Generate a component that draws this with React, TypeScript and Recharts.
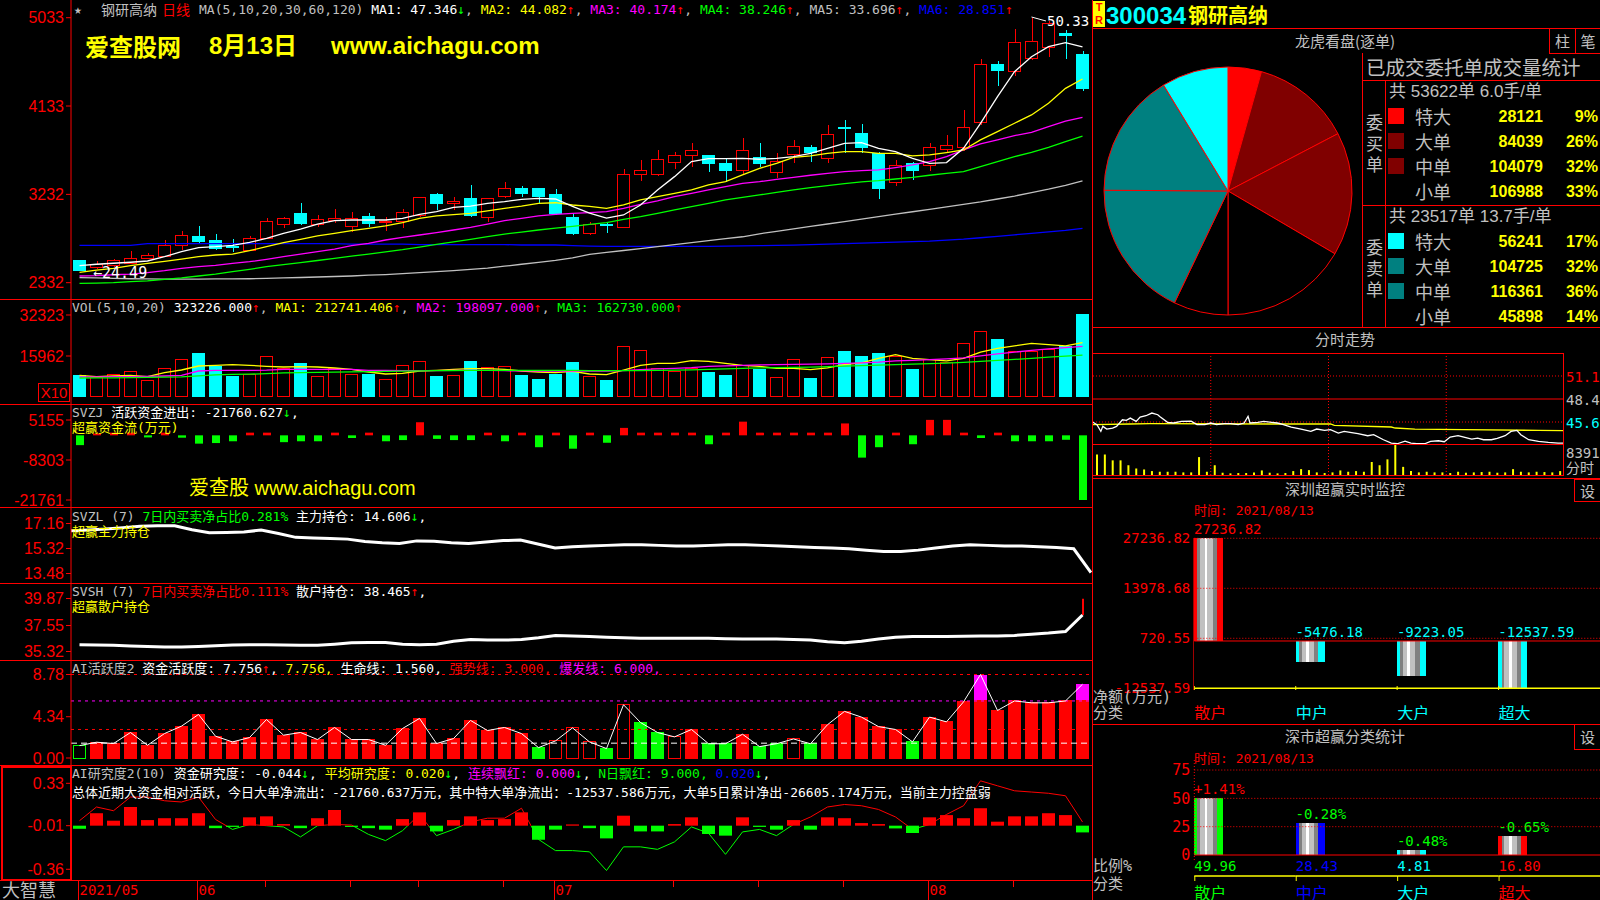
import React from 'react';
import {
  ComposedChart,
  BarChart,
  PieChart,
  Pie,
  Cell,
  Bar,
  Line,
  XAxis,
  YAxis,
  ReferenceLine,
} from 'recharts';

// terminal colours
const RED = '#FF0000';
const CYAN = '#00FFFF';
const YEL = '#FFFF00';
const MAG = '#FF00FF';
const GRN = '#00FF00';
const GRAY = '#C0C0C0';
const BLUE = '#0000FF';
const WHITE = '#FFFFFF';
const DRED = '#800000';
const TEAL = '#008080';

const MONO = '"DejaVu Sans Mono", "Noto Sans CJK SC", monospace';
const SANS = '"Liberation Sans", Arial, "Noto Sans CJK SC", sans-serif';
const CJK = '"Noto Sans CJK SC", sans-serif';

// ---- daily bars 2021-05-21 .. 2021-08-13
const opens = [25.53, 24.9, 25.05, 25.29, 25.77, 25.97, 27.06, 27.98, 27.67, 27.0, 26.58, 27.84, 29.2, 30.42, 29.2, 29.64, 29.03, 30.05, 29.45, 29.57, 30.12, 32.26, 31.4, 31.85, 29.98, 32.09, 32.9, 32.9, 32.26, 30.01, 28.32, 29.3, 28.97, 34.33, 34.33, 35.56, 36.27, 36.3, 35.49, 34.74, 36.1, 34.54, 36.37, 37.15, 35.99, 39.1, 38.48, 36.51, 33.52, 35.42, 35.25, 36.88, 37.09, 39.63, 45.61, 44.83, 46.16, 47.28, 48.7, 46.63];
const highs = [25.6, 25.5, 25.76, 26.55, 26.3, 27.67, 28.6, 29.1, 28.28, 27.74, 28.1, 29.91, 30.05, 31.44, 30.22, 30.83, 30.52, 30.42, 30.01, 30.83, 32.1, 32.46, 32.09, 33.27, 31.98, 33.62, 33.17, 32.95, 32.87, 30.39, 29.5, 29.54, 34.91, 35.83, 36.85, 36.64, 37.53, 36.35, 35.99, 38.07, 37.53, 36.51, 37.87, 37.36, 39.36, 39.9, 39.5, 36.68, 35.83, 35.66, 37.53, 38.38, 40.93, 46.09, 45.92, 49.18, 50.33, 49.95, 49.08, 46.94];
const lows = [24.49, 24.7, 24.95, 25.2, 25.7, 25.9, 26.65, 27.4, 26.65, 26.48, 26.5, 27.8, 28.93, 29.2, 29.03, 29.37, 28.52, 29.03, 28.6, 28.93, 30.0, 30.73, 30.73, 30.05, 29.54, 31.92, 32.09, 31.41, 30.22, 28.18, 28.18, 28.42, 28.9, 33.69, 34.2, 34.91, 35.15, 34.6, 33.62, 34.4, 35.15, 34.03, 35.56, 35.66, 35.56, 36.51, 36.58, 31.85, 33.2, 33.79, 34.74, 36.5, 36.75, 39.4, 43.4, 44.43, 46.0, 46.36, 46.12, 42.86];
const closes = [24.61, 25.2, 25.59, 25.8, 26.04, 27.06, 28.08, 27.5, 26.78, 26.95, 27.87, 29.6, 29.91, 29.33, 29.71, 29.84, 29.91, 29.33, 29.55, 30.52, 32.02, 31.37, 31.55, 30.15, 31.85, 32.87, 32.46, 32.09, 30.42, 28.32, 29.2, 29.2, 34.37, 34.78, 35.9, 36.3, 36.81, 35.46, 34.74, 36.81, 35.46, 35.69, 37.22, 36.58, 38.44, 39.0, 37.09, 32.87, 35.29, 34.74, 37.12, 37.32, 39.16, 45.58, 45.0, 47.82, 47.93, 49.69, 48.55, 43.07];

const ma1 = [25.05, 25.2, 25.3, 25.4, 25.53, 25.97, 26.48, 26.89, 26.99, 27.13, 27.43, 27.84, 28.35, 28.79, 29.3, 29.64, 29.71, 29.71, 29.71, 29.88, 30.29, 30.56, 31.0, 31.13, 31.41, 31.58, 31.81, 31.92, 31.85, 31.1, 30.4, 29.9, 30.22, 31.24, 32.77, 34.13, 35.66, 35.97, 35.97, 36.0, 35.9, 36.0, 36.17, 36.51, 37.02, 37.53, 37.6, 37.02, 36.68, 36.0, 35.49, 35.56, 37.02, 39.57, 42.28, 44.83, 46.36, 47.38, 47.79, 47.35];
const ma2 = [24.37, 24.61, 24.78, 25.05, 25.29, 25.5, 25.73, 25.97, 26.14, 26.24, 26.58, 26.99, 27.4, 27.74, 28.08, 28.35, 28.62, 28.86, 29.1, 29.44, 29.88, 30.12, 30.25, 30.39, 30.63, 30.9, 31.13, 31.41, 31.47, 31.24, 31.1, 30.9, 31.24, 31.75, 32.09, 32.43, 32.77, 33.28, 33.62, 34.3, 34.98, 35.49, 36.1, 36.24, 36.51, 36.68, 36.68, 36.51, 36.51, 36.24, 36.34, 36.58, 36.85, 37.87, 38.72, 39.57, 40.42, 41.61, 43.13, 44.08];
const ma3 = [24.0, 24.03, 24.13, 24.2, 24.34, 24.54, 24.78, 24.95, 25.09, 25.29, 25.46, 25.7, 25.97, 26.24, 26.48, 26.75, 27.09, 27.33, 27.67, 27.94, 28.18, 28.42, 28.69, 28.96, 29.3, 29.64, 29.88, 30.12, 30.29, 30.39, 30.46, 30.56, 30.9, 31.31, 31.65, 32.09, 32.43, 32.77, 33.11, 33.45, 33.62, 33.86, 34.06, 34.27, 34.47, 34.64, 34.74, 34.81, 35.05, 35.32, 35.66, 36.17, 36.85, 37.46, 37.87, 38.31, 38.65, 39.23, 39.8, 40.17];
const ma4 = [23.25, 23.28, 23.32, 23.42, 23.5, 23.66, 23.8, 24.0, 24.2, 24.44, 24.68, 24.95, 25.15, 25.36, 25.58, 25.8, 26.02, 26.24, 26.46, 26.68, 26.95, 27.23, 27.48, 27.74, 28.01, 28.28, 28.48, 28.69, 28.88, 29.06, 29.27, 29.44, 29.78, 30.05, 30.39, 30.73, 31.07, 31.41, 31.75, 32.02, 32.26, 32.53, 32.77, 33.01, 33.21, 33.42, 33.59, 33.72, 33.89, 34.06, 34.27, 34.47, 34.64, 35.15, 35.66, 36.17, 36.61, 37.12, 37.7, 38.25];
const ma5 = [23.83, 23.8, 23.76, 23.72, 23.7, 23.68, 23.68, 23.68, 23.7, 23.7, 23.72, 23.75, 23.8, 23.85, 23.9, 23.95, 24.0, 24.08, 24.15, 24.25, 24.35, 24.45, 24.55, 24.68, 24.8, 25.0, 25.2, 25.4, 25.6, 25.85, 26.2, 26.4, 26.6, 26.8, 27.0, 27.2, 27.4, 27.6, 27.8, 28.0, 28.3, 28.55, 28.8, 29.05, 29.3, 29.55, 29.8, 30.05, 30.3, 30.55, 30.8, 31.05, 31.3, 31.55, 31.85, 32.15, 32.5, 32.85, 33.25, 33.7];
const ma6 = [27.12, 27.12, 27.12, 27.12, 27.3, 27.3, 27.3, 27.3, 27.3, 27.3, 27.3, 27.3, 27.3, 27.3, 27.3, 27.3, 27.25, 27.25, 27.25, 27.25, 27.2, 27.2, 27.2, 27.2, 27.2, 27.2, 27.16, 27.16, 27.16, 27.1, 27.05, 27.02, 27.02, 27.02, 27.02, 27.02, 27.02, 27.02, 27.05, 27.08, 27.1, 27.12, 27.15, 27.2, 27.25, 27.3, 27.35, 27.4, 27.45, 27.5, 27.55, 27.65, 27.75, 27.9, 28.05, 28.2, 28.35, 28.5, 28.65, 28.85];

const vols = [82460, 73150, 85120, 97090, 62510, 109060, 144970, 170240, 119700, 77140, 85120, 156940, 109060, 130340, 77140, 109060, 85120, 85120, 65170, 121030, 138320, 78470, 81130, 138320, 113050, 117040, 82460, 66500, 86450, 134330, 77140, 62510, 196840, 180880, 109060, 97090, 109060, 94070, 81800, 122700, 106340, 73620, 147240, 69530, 155420, 175870, 159510, 167690, 159510, 106340, 147240, 134970, 208590, 257670, 224950, 175870, 175870, 184050, 196320, 323226];
const volMa1 = [82460, 77140, 79800, 82460, 77140, 93100, 103740, 119700, 122360, 125020, 122360, 118370, 115710, 117040, 115710, 111720, 106400, 95760, 87780, 90440, 99750, 102410, 106400, 109060, 109060, 106400, 99750, 95760, 93100, 98420, 87780, 85120, 103740, 122360, 130340, 130340, 140980, 138000, 130000, 122000, 118000, 110000, 110000, 105000, 112000, 125000, 132000, 150000, 165000, 150000, 145000, 140000, 150000, 175000, 190000, 200000, 210000, 205000, 200000, 212741];
const volMa2 = [75800, 76500, 77000, 77500, 78000, 79800, 82000, 99750, 102400, 102400, 102400, 103000, 106400, 106400, 106400, 106400, 106400, 102400, 102400, 101000, 101000, 101000, 102000, 102400, 102400, 101000, 100000, 99750, 99750, 99750, 99750, 99000, 101000, 105000, 108000, 110000, 113000, 118000, 120000, 122000, 124000, 125000, 126000, 127000, 128000, 130000, 132000, 135000, 140000, 142000, 145000, 148000, 152000, 160000, 168000, 175000, 182000, 188000, 193000, 198097];
const volMa3 = [71800, 72000, 72500, 73000, 74000, 75000, 76000, 80000, 84000, 86000, 87000, 89000, 92000, 93000, 94000, 95000, 96000, 97000, 98000, 99000, 100000, 101000, 101500, 102000, 102400, 102400, 102400, 102400, 102400, 102000, 101500, 101000, 101000, 101500, 102000, 103000, 104000, 106000, 108000, 110000, 112000, 113000, 114000, 115000, 117000, 119000, 121000, 123000, 125000, 127000, 129000, 131000, 134000, 138000, 142000, 146000, 150000, 155000, 159000, 162730];

// SVZJ active money (10k yuan)
const activeFlow = [-3300, 600, 900, 900, -700, 900, -800, -2800, -2600, -2000, 900, 900, -2300, -2000, -2000, 900, -900, 900, -2000, -1600, 4400, -1200, -1600, -1600, 900, -2000, 900, -4000, 900, -4500, 900, -2500, 2500, 900, 900, 900, 900, -3000, 900, 4600, 900, 900, 900, 900, 900, 4000, -7500, -4000, 900, -3000, 5200, 5200, 900, -900, 900, -2000, -2000, -2000, -1500, -21760];
// SVZL main holding, SVSH retail holding
const mainHold = [16.63, 16.68, 16.75, 16.85, 16.95, 17.0, 17.0, 16.7, 16.48, 16.5, 16.53, 16.68, 16.43, 16.14, 16.1, 16.05, 16.01, 15.84, 15.75, 15.69, 15.88, 15.85, 15.75, 15.69, 15.79, 15.9, 15.94, 15.65, 15.36, 15.45, 15.5, 15.55, 15.6, 15.6, 15.55, 15.5, 15.5, 15.55, 15.6, 15.6, 15.55, 15.5, 15.45, 15.4, 15.35, 15.3, 15.2, 15.1, 15.1, 15.2, 15.35, 15.5, 15.6, 15.55, 15.5, 15.5, 15.45, 15.4, 15.3, 13.55];
const retailHold = [35.9, 35.88, 35.85, 35.8, 35.75, 35.7, 35.7, 35.75, 35.82, 35.88, 35.9, 35.9, 35.88, 35.86, 35.85, 35.95, 36.07, 36.1, 36.1, 35.95, 35.9, 35.95, 36.2, 36.35, 36.3, 36.3, 36.35, 36.5, 36.7, 36.65, 36.6, 36.55, 36.5, 36.45, 36.45, 36.45, 36.45, 36.45, 36.42, 36.4, 36.4, 36.4, 36.35, 36.3, 36.15, 36.08, 36.2, 36.4, 36.55, 36.6, 36.6, 36.6, 36.62, 36.65, 36.65, 36.7, 36.8, 36.9, 37.04, 38.45];
const retailPeak = 39.85;
// AI 活跃度2
const activity = [1.3, 1.66, 1.52, 2.68, 1.34, 2.57, 3.35, 4.58, 2.29, 1.69, 2.15, 4.05, 2.4, 2.68, 1.94, 3.21, 1.94, 1.94, 1.34, 3.1, 4.16, 1.52, 2.04, 3.95, 2.89, 3.21, 2.57, 1.09, 1.8, 3.17, 1.69, 0.99, 5.6, 3.73, 2.68, 2.22, 3.0, 1.5, 1.5, 2.5, 1.2, 1.5, 2.0, 1.5, 3.5, 4.9, 4.3, 3.3, 3.0, 1.7, 4.3, 3.8, 5.9, 8.78, 5.0, 6.0, 5.8, 5.8, 6.0, 7.756];
const activityKind = 'GrrrrrrrrrrrrrrrrrrrrrrrrrrgRRRgRggRrggrggRgrrrrrgrrrrrrrrrr';
// AI 研究度2
const studyLine = [0.03, 0.14, 0.11, 0.22, 0.22, 0.19, 0.18, 0.22, 0.04, -0.04, 0.0, -0.01, -0.02, -0.1, -0.01, 0.0, -0.005, -0.08, -0.13, -0.05, 0.08, -0.09, -0.04, 0.02, 0.05, 0.05, 0.13, -0.12, -0.21, -0.21, -0.22, -0.37, -0.18, -0.18, -0.2, -0.14, -0.02, -0.07, -0.24, -0.06, -0.04, -0.09, 0.0, 0.06, 0.14, 0.16, 0.15, 0.12, 0.06, -0.04, 0.0, 0.08, 0.15, 0.35, 0.31, 0.27, 0.26, 0.25, 0.23, 0.02];
const studyBar = [-0.035, 0.09, 0.03, 0.14, 0.035, 0.05, 0.05, 0.09, -0.03, -0.02, 0.057, 0.065, 0.003, -0.03, 0.05, 0.116, -0.02, -0.03, -0.042, 0.043, 0.097, -0.056, 0.035, 0.065, 0.035, 0.043, 0.097, -0.123, -0.042, 0.0, -0.03, -0.112, 0.07, -0.056, -0.056, 0.003, 0.057, -0.077, -0.09, 0.057, -0.02, -0.042, 0.035, -0.042, 0.057, 0.05, 0.011, 0.003, -0.032, -0.069, 0.057, 0.075, 0.05, 0.13, 0.022, 0.065, 0.065, 0.09, 0.075, -0.064];
const STUDY_BASE = -0.01;

const monthTicks = [
  { i: 0, label: '2021/05' },
  { i: 7, label: '06' },
  { i: 28, label: '07' },
  { i: 50, label: '08' },
];
const weekTicks = [11, 16, 20, 25, 35, 40, 45, 55];

// ---- order statistics (pie + table)
const orderKinds = ['特大', '大单', '中单', '小单'];
const buyOrders = [28121, 84039, 104079, 106988];
const sellOrders = [56241, 104725, 116361, 45898];
const buyColors = [RED, DRED, DRED, '#000000'];
const sellColors = [CYAN, TEAL, TEAL, '#000000'];

// ---- intraday 2021-08-13
const tickMin = [0, 2, 4, 5, 7, 10, 12, 15, 17, 19, 22, 24, 27, 30, 33, 34, 38, 41, 45, 50, 53, 57, 60, 63, 67, 70, 74, 77, 79, 80, 84, 87, 91, 94, 97, 101, 106, 111, 114, 118, 121, 125, 128, 131, 135, 140, 143, 148, 152, 155, 159, 162, 165, 169, 172, 176, 179, 182, 186, 189, 193, 196, 199, 203, 206, 210, 213, 216, 218, 222, 227, 232, 237, 240];
const tickPrice = [45.64, 45.36, 44.56, 45.16, 44.84, 44.96, 45.16, 45.95, 45.87, 46.15, 45.75, 46.27, 46.43, 46.75, 46.55, 46.35, 45.64, 45.56, 45.75, 45.79, 45.36, 45.36, 45.56, 45.36, 45.48, 45.48, 45.36, 45.56, 46.35, 45.56, 45.64, 45.75, 45.64, 45.56, 45.36, 45.08, 44.84, 44.56, 44.84, 44.68, 44.76, 44.36, 44.56, 44.44, 44.28, 44.04, 44.16, 43.56, 43.16, 43.08, 43.4, 43.16, 43.08, 43.08, 43.36, 43.44, 43.32, 43.88, 44.04, 43.88, 43.64, 43.76, 43.56, 43.56, 43.72, 44.04, 44.56, 44.68, 44.16, 43.56, 43.36, 43.24, 43.16, 43.16];
const avgMin = [0, 19, 29, 97, 121, 123, 152, 154, 164, 189, 227, 240];
const avgPrice = [45.36, 45.44, 45.48, 45.44, 45.44, 45.28, 45.08, 44.96, 44.84, 44.76, 44.68, 44.64];
const minuteVol = [5733, 5733, 4095, 4095, 2730, 1820, 1547, 1092, 910, 910, 910, 728, 728, 5005, 910, 2730, 637, 455, 546, 546, 728, 1274, 637, 455, 546, 1092, 1638, 1365, 728, 546, 728, 1274, 910, 1092, 910, 3640, 2730, 4368, 8391, 2275, 1092, 728, 910, 728, 728, 546, 910, 637, 728, 819, 910, 637, 728, 1638, 910, 728, 910, 819, 728, 1092];
const PREV_CLOSE = 48.43;

// ---- 深圳超赢 monitors
const groupNames = ['散户', '中户', '大户', '超大'];
const netAmount = [27236.82, -5476.18, -9223.05, -12537.59];
const netColors = [RED, CYAN, CYAN, CYAN];
const shareRatio = [49.96, 28.43, 4.81, 16.8];
const shareChange = ['+1.41%', '-0.28%', '-0.48%', '-0.65%'];
const changeColors = [RED, GRN, GRN, GRN];
const shareColors = [GRN, BLUE, CYAN, RED];

// ---------------------------------------------------------------------------
const LEFT_W = 1092;
const PLOT_L = 71;
const STEP = 17;
const BAND = 405.7 / 4;
const PAD = 10; // room for axis labels that sit on a panel border

const rows = opens.map((o, i) => ({
  d: i,
  o,
  h: highs[i],
  l: lows[i],
  c: closes[i],
  ma1: ma1[i],
  ma2: ma2[i],
  ma3: ma3[i],
  ma4: ma4[i],
  ma5: ma5[i],
  ma6: ma6[i],
  vol: vols[i],
  vma1: volMa1[i],
  vma2: volMa2[i],
  vma3: volMa3[i],
  zj: activeFlow[i],
  zl: mainHold[i],
  sh: retailHold[i],
  spike: i === opens.length - 1 ? [retailHold[i], retailPeak] : null,
  act: activity[i],
  kind: activityKind[i],
  sl: studyLine[i],
  sb: [Math.min(STUDY_BASE, studyBar[i]), Math.max(STUDY_BASE, studyBar[i])],
}));

const pieData = [
  ...buyOrders.map((v, i) => ({ v, fill: buyColors[i] })),
  ...sellOrders.map((v, i) => ({ v, fill: sellColors[i] })).reverse(),
];
const buySum = buyOrders.reduce((a, b) => a + b, 0);
const sellSum = sellOrders.reduce((a, b) => a + b, 0);

const tickRows = tickMin.map((t, i) => ({ t, p: tickPrice[i] }));
const avgRows = avgMin.map((t, i) => ({ t, p: avgPrice[i] }));
const minuteRows = minuteVol.map((v, i) => ({ t: i * 4 + 2, v }));

const monRows = groupNames.map((n, i) => ({ n, v: netAmount[i], edge: netColors[i], label: netAmount[i].toFixed(2), lc: netColors[i] }));
const shareRows = groupNames.map((n, i) => ({ n, v: shareRatio[i], edge: shareColors[i], label: shareChange[i], lc: changeColors[i] }));

const sMax = Math.max(...studyLine);
const sMin = Math.min(...studyLine);
const studyOffset = (sMax - STUDY_BASE) / (sMax - sMin);

// ---- shapes
const Candle = (p: any) => {
  const { x, y, width, height, payload } = p;
  const { o, h, l, c } = payload;
  const k = h > l ? height / (h - l) : 0;
  const py = (v: number) => y + (h - v) * k;
  const up = c > o;
  const col = up ? RED : CYAN;
  const cx = Math.round(x + width / 2) + 0.5;
  const t = py(Math.max(o, c));
  const b = py(Math.min(o, c));
  return (
    <g shapeRendering="crispEdges">
      <line x1={cx} x2={cx} y1={y} y2={y + height} stroke={col} />
      <rect x={x + 0.5} y={t} width={width - 1} height={Math.max(b - t, 1)} fill={up ? '#000' : col} stroke={col} />
    </g>
  );
};

const VolBar = (p: any) => {
  const { x, y, width, height, payload } = p;
  const up = payload.c > payload.o;
  return (
    <rect x={x + 0.5} y={y} width={width - 1} height={height} fill={up ? '#000' : CYAN} stroke={up ? RED : CYAN} shapeRendering="crispEdges" />
  );
};

const ActBar = (p: any) => {
  const { x, y, width, height, payload } = p;
  const v = payload.act;
  const col = payload.kind === 'g' || payload.kind === 'G' ? GRN : RED;
  const hollow = payload.kind === 'R' || payload.kind === 'G';
  const split = v > 6 ? y + height * (1 - 6 / v) : y;
  return (
    <g shapeRendering="crispEdges">
      {v > 6 && <rect x={x} y={y} width={width} height={split - y} fill={MAG} />}
      <rect x={x + 0.5} y={split} width={width - 1} height={y + height - split} fill={hollow ? '#000' : col} stroke={col} />
    </g>
  );
};

const cuts = [0, 0.11, 0.21, 0.36, 0.46, 0.64, 0.78, 1];
const StripeBar = (p: any) => {
  const { x, width, payload } = p;
  let { y, height } = p;
  if (height < 0) {
    y += height;
    height = -height;
  }
  const left = x - (BAND - width) / 2;
  const fills = [payload.edge, '#808080', GRAY, WHITE, GRAY, '#808080', payload.edge];
  return (
    <g shapeRendering="crispEdges">
      {fills.map((f, k) => (
        <rect key={k} x={left + width * cuts[k]} y={y} width={width * (cuts[k + 1] - cuts[k])} height={height} fill={f} />
      ))}
      <text x={left} y={y - 9} fill={payload.lc} fontSize={14} fontFamily={MONO} dominantBaseline="central">
        {payload.label}
      </text>
    </g>
  );
};

// monitor chart starts at page y 515 (plot 515..700)
const MonTick = (p: any) => {
  const { x, index } = p;
  const left = x - BAND / 2;
  return (
    <g>
      <line x1={left} x2={left} y1={171} y2={175} stroke={YEL} />
      <text x={left} y={196.7} fill={index === 0 ? RED : CYAN} fontSize={16} fontFamily={CJK} dominantBaseline="central">
        {groupNames[index]}
      </text>
    </g>
  );
};

// share chart starts at page y 750 (plot 760..860)
const ShareTick = (p: any) => {
  const { x, index } = p;
  const left = x - BAND / 2;
  return (
    <g>
      <text x={left} y={115.7} fill={shareColors[index]} fontSize={14} fontFamily={MONO} dominantBaseline="central">
        {shareRatio[index].toFixed(2)}
      </text>
      <line x1={left} x2={left + BAND} y1={126} y2={126} stroke={YEL} strokeWidth={1.5} />
      <line x1={left + 0.5} x2={left + 0.5} y1={126} y2={131} stroke={YEL} />
      <text x={left} y={141.7} fill={shareColors[index]} fontSize={16} fontFamily={CJK} dominantBaseline="central">
        {groupNames[index]}
      </text>
    </g>
  );
};

// ---- helpers
interface PanelProps {
  top: number;
  height: number;
  domain: [number, number];
  ticks: number[];
  fmt: (v: number) => string;
  children?: React.ReactNode;
}

function Panel({ top, height, domain, ticks, fmt, children }: PanelProps) {
  return (
    <div style={{ position: 'absolute', left: 0, top: top - PAD, width: LEFT_W, height: height + 2 * PAD }}>
      <ComposedChart width={LEFT_W} height={height + 2 * PAD} data={rows} margin={{ top: PAD, right: 1, bottom: PAD, left: 0 }}>
        <XAxis dataKey="d" hide />
        <YAxis
          type="number"
          domain={domain}
          allowDataOverflow
          ticks={ticks}
          interval={0}
          width={PLOT_L}
          tickFormatter={fmt}
          axisLine={{ stroke: RED }}
          tickLine={{ stroke: RED }}
          tickSize={5}
          tickMargin={2}
          tick={{ fill: RED, fontSize: 16, fontFamily: SANS }}
        />
        {children}
      </ComposedChart>
    </div>
  );
}

const Txt = ({ x, y, c = GRAY, s = 13, f = MONO, b = false, align = 'left', children }: any) => {
  const lh = Math.round(s * 1.3);
  const pos: React.CSSProperties =
    align === 'right' ? { right: 1600 - x } : align === 'center' ? { left: x - 300, width: 600, textAlign: 'center' } : { left: x };
  return (
    <div style={{ position: 'absolute', top: y - lh / 2, ...pos, color: c, fontSize: s, fontFamily: f, fontWeight: b ? 700 : 400, lineHeight: `${lh}px`, whiteSpace: 'nowrap' }}>
      {children}
    </div>
  );
};
const S = ({ c, children }: any) => <span style={{ color: c }}>{children}</span>;
const HL = ({ x1, x2, y, c = RED }: any) => <div style={{ position: 'absolute', left: x1, top: y, width: x2 - x1, height: 1, background: c }} />;
const VL = ({ x, y1, y2, c = RED }: any) => <div style={{ position: 'absolute', left: x, top: y1, width: 1, height: y2 - y1, background: c }} />;
const Box = ({ x, y, w, h, children }: any) => (
  <div style={{ position: 'absolute', left: x, top: y, width: w - 2, height: h - 2, border: `1px solid ${RED}`, color: GRAY, fontFamily: CJK, fontSize: 15, lineHeight: `${h - 2}px`, textAlign: 'center' }}>
    {children}
  </div>
);

const line = (key: string, color: string, w = 1.3) => (
  <Line key={key} dataKey={key} stroke={color} strokeWidth={w} dot={false} activeDot={false} isAnimationActive={false} type="linear" />
);

export default function App() {
  const bandX = (i: number) => PLOT_L + STEP * (i + 0.5);
  return (
    <div style={{ position: 'absolute', left: 0, top: 0, width: 1600, height: 900, background: '#000', overflow: 'hidden' }}>
      {/* ---------------- left: daily K line and indicators ---------------- */}
      <Panel top={0} height={299} domain={[21.656, 52.136]} ticks={[23.32, 32.32, 41.33, 50.33]} fmt={(v) => String(Math.round(v * 100))}>
        <Bar dataKey={(r: any) => [r.l, r.h]} barSize={13} shape={Candle} isAnimationActive={false} />
        {line('ma6', BLUE)}
        {line('ma5', GRAY)}
        {line('ma4', GRN)}
        {line('ma3', MAG)}
        {line('ma2', YEL)}
        {line('ma1', WHITE)}
      </Panel>

      <Panel top={299} height={105} domain={[-31923, 387071]} ticks={[159620, 323230]} fmt={(v) => String(Math.round(v / 10))}>
        <Bar dataKey="vol" barSize={13} shape={VolBar} isAnimationActive={false} />
        {line('vma1', YEL)}
        {line('vma2', MAG)}
        {line('vma3', GRN)}
      </Panel>

      <Panel top={404} height={103} domain={[-24116, 10539]} ticks={[5155, -8303, -21761]} fmt={(v) => String(v)}>
        <Bar dataKey="zj" barSize={8} isAnimationActive={false}>
          {rows.map((r, i) => (
            <Cell key={i} fill={r.zj >= 0 ? RED : GRN} />
          ))}
        </Bar>
      </Panel>

      <Panel top={507} height={76} domain={[12.781, 18.374]} ticks={[17.16, 15.32, 13.48]} fmt={(v) => v.toFixed(2)}>
        {line('zl', WHITE, 3)}
      </Panel>

      <Panel top={583} height={77} domain={[34.59, 41.2]} ticks={[39.87, 37.55, 35.32]} fmt={(v) => v.toFixed(2)}>
        <Bar dataKey="spike" barSize={2} fill={RED} isAnimationActive={false} />
        {line('sh', WHITE, 3)}
      </Panel>

      <Panel top={660} height={105} domain={[-0.736, 10.305]} ticks={[8.78, 4.34, 0]} fmt={(v) => v.toFixed(2)}>
        <ReferenceLine y={8.78} stroke={RED} strokeDasharray="3 4" />
        <ReferenceLine y={6} stroke={MAG} strokeDasharray="3 4" />
        <ReferenceLine y={3} stroke={RED} strokeDasharray="3 4" />
        <ReferenceLine y={1.56} stroke={WHITE} strokeDasharray="6 4" />
        <Bar dataKey="act" barSize={13} shape={ActBar} isAnimationActive={false} />
        {line('act', WHITE, 1)}
      </Panel>

      <Panel top={765} height={115} domain={[-0.446, 0.477]} ticks={[0.33, -0.01, -0.36]} fmt={(v) => v.toFixed(2)}>
        <defs>
          <linearGradient id="studyGrad" x1="0" y1="0" x2="0" y2="1">
            <stop offset={studyOffset} stopColor={RED} />
            <stop offset={studyOffset} stopColor={GRN} />
          </linearGradient>
        </defs>
        <Bar dataKey="sb" barSize={13} isAnimationActive={false}>
          {rows.map((r, i) => (
            <Cell key={i} fill={studyBar[i] >= STUDY_BASE ? RED : GRN} />
          ))}
        </Bar>
        <Line dataKey="sl" stroke="url(#studyGrad)" strokeWidth={1} dot={false} activeDot={false} isAnimationActive={false} type="linear" />
      </Panel>

      {/* panel texts */}
      <Txt x={74} y={9} c={GRAY} s={13}>★</Txt>
      <Txt x={101} y={9} c={GRAY} s={14} f={CJK}>钢研高纳</Txt>
      <Txt x={162} y={9} c={RED} s={14} f={CJK}>日线</Txt>
      <Txt x={199} y={9}>
        <S c={GRAY}>MA(5,10,20,30,60,120) </S>
        <S c={WHITE}>MA1: 47.346</S><S c={GRN}>↓</S><S c={GRAY}>, </S>
        <S c={YEL}>MA2: 44.082</S><S c={RED}>↑</S><S c={GRAY}>, </S>
        <S c={MAG}>MA3: 40.174</S><S c={RED}>↑</S><S c={GRAY}>, </S>
        <S c={GRN}>MA4: 38.246</S><S c={RED}>↑</S><S c={GRAY}>, </S>
        <S c={GRAY}>MA5: 33.696</S><S c={RED}>↑</S><S c={GRAY}>, </S>
        <S c={BLUE}>MA6: 28.851</S><S c={RED}>↑</S>
      </Txt>
      <Txt x={85} y={45} c={YEL} s={24} f={CJK} b>爱查股网</Txt>
      <Txt x={209} y={45} c={YEL} s={24} f={SANS} b>8月13日</Txt>
      <Txt x={331} y={45} c={YEL} s={24} f={SANS} b>www.aichagu.com</Txt>
      <svg style={{ position: 'absolute', left: 0, top: 0 }} width={1092} height={40}>
        <line x1={bandX(56)} y1={17} x2={1046} y2={21} stroke={WHITE} />
      </svg>
      <Txt x={1047} y={21} c={WHITE} s={14}>50.33</Txt>
      <Txt x={93} y={273} c={WHITE} s={15}>←24.49</Txt>

      <Txt x={72} y={307}>
        <S c={GRAY}>VOL(5,10,20) </S>
        <S c={WHITE}>323226.000</S><S c={RED}>↑</S><S c={GRAY}>, </S>
        <S c={YEL}>MA1: 212741.406</S><S c={RED}>↑</S><S c={GRAY}>, </S>
        <S c={MAG}>MA2: 198097.000</S><S c={RED}>↑</S><S c={GRAY}>, </S>
        <S c={GRN}>MA3: 162730.000</S><S c={RED}>↑</S>
      </Txt>
      <div style={{ position: 'absolute', left: 38, top: 383, width: 30, height: 17, border: `1px solid ${RED}`, color: RED, fontFamily: SANS, fontSize: 15, lineHeight: '17px', textAlign: 'center' }}>X10</div>

      <Txt x={72} y={412}>
        <S c={GRAY}>SVZJ  </S>
        <S c={WHITE}>活跃资金进出: -21760.627</S><S c={GRN}>↓</S><S c={WHITE}>,</S>
      </Txt>
      <Txt x={72} y={427} c={YEL}>超赢资金流(万元)</Txt>
      <Txt x={189} y={488} c={YEL} s={20} f={SANS}>爱查股 www.aichagu.com</Txt>

      <Txt x={72} y={516}>
        <S c={GRAY}>SVZL (7) </S>
        <S c={GRN}>7日内买卖净占比0.281% </S>
        <S c={WHITE}>主力持仓: 14.606</S><S c={GRN}>↓</S><S c={WHITE}>,</S>
      </Txt>
      <Txt x={72} y={531} c={YEL}>超赢主力持仓</Txt>

      <Txt x={72} y={591}>
        <S c={GRAY}>SVSH (7) </S>
        <S c={RED}>7日内买卖净占比0.111% </S>
        <S c={WHITE}>散户持仓: 38.465</S><S c={RED}>↑</S><S c={WHITE}>,</S>
      </Txt>
      <Txt x={72} y={606} c={YEL}>超赢散户持仓</Txt>

      <Txt x={72} y={668}>
        <S c={GRAY}>AI活跃度2 </S>
        <S c={WHITE}>资金活跃度: 7.756</S><S c={RED}>↑</S><S c={WHITE}>, </S>
        <S c={YEL}>7.756, </S>
        <S c={WHITE}>生命线: 1.560, </S>
        <S c={RED}>强势线: 3.000, </S>
        <S c={MAG}>爆发线: 6.000,</S>
      </Txt>

      <Txt x={72} y={773}>
        <S c={GRAY}>AI研究度2(10) </S>
        <S c={WHITE}>资金研究度: -0.044</S><S c={GRN}>↓</S><S c={WHITE}>, </S>
        <S c={YEL}>平均研究度: 0.020</S><S c={GRN}>↓</S><S c={WHITE}>, </S>
        <S c={MAG}>连续飘红: 0.000</S><S c={GRN}>↓</S><S c={WHITE}>, </S>
        <S c={GRN}>N日飘红: 9.000, </S>
        <S c={BLUE}>0.020</S><S c={GRN}>↓</S><S c={WHITE}>,</S>
      </Txt>
      <div style={{ position: 'absolute', left: 72, top: 784, width: 1019, overflow: 'hidden' }}>
        <div style={{ color: WHITE, fontFamily: MONO, fontSize: 13, lineHeight: '18px', whiteSpace: 'nowrap' }}>
          总体近期大资金相对活跃，今日大单净流出：-21760.637万元，其中特大单净流出：-12537.586万元，大单5日累计净出-26605.174万元，当前主力控盘弱
        </div>
      </div>
      <div style={{ position: 'absolute', left: 1, top: 766, width: 67, height: 111, border: `2px solid ${RED}` }} />

      {/* separators of the left column */}
      {[299, 404, 507, 583, 660, 765, 880].map((y) => (
        <HL key={y} x1={0} x2={1092} y={y} />
      ))}
      <VL x={1092} y1={0} y2={900} />

      {/* date strip */}
      <Txt x={2} y={889} c={GRAY} s={18} f={CJK}>大智慧</Txt>
      {monthTicks.map((m) => (
        <React.Fragment key={m.label}>
          <VL x={Math.round(bandX(m.i)) - 2} y1={881} y2={900} />
          <Txt x={bandX(m.i)} y={890} c={RED} s={14}>{m.label}</Txt>
        </React.Fragment>
      ))}
      {weekTicks.map((i) => (
        <VL key={i} x={Math.round(bandX(i)) - 2} y1={881} y2={887} />
      ))}

      {/* ---------------- right column ---------------- */}
      <div style={{ position: 'absolute', left: 1093, top: 1, width: 12, height: 26, background: YEL, color: RED, fontFamily: SANS, fontWeight: 700, fontSize: 11, lineHeight: '13px', textAlign: 'center' }}>
        T<br />R
      </div>
      <Txt x={1106} y={15} c={CYAN} s={24} f={SANS} b>300034</Txt>
      <Txt x={1188} y={15} c={YEL} s={20} f={CJK} b>钢研高纳</Txt>
      <HL x1={1092} x2={1600} y={28} />

      <Txt x={1345} y={41} s={15} f={CJK} align="center">龙虎看盘(逐单)</Txt>
      <Box x={1549} y={28} w={27} h={26}>柱</Box>
      <Box x={1575} y={28} w={26} h={26}>笔</Box>

      <div style={{ position: 'absolute', left: 1093, top: 56 }}>
        <PieChart width={260} height={260}>
          <Pie data={pieData} dataKey="v" cx={130} cy={130} outerRadius={124} startAngle={90} endAngle={-270} stroke={RED} strokeWidth={1} isAnimationActive={false}>
            {pieData.map((d, i) => (
              <Cell key={i} fill={d.fill} />
            ))}
          </Pie>
        </PieChart>
      </div>

      <VL x={1362} y1={53} y2={327} />
      <VL x={1385} y1={80} y2={327} />
      <HL x1={1362} x2={1600} y={80} />
      <HL x1={1362} x2={1600} y={205} />
      <Txt x={1366} y={66} s={19.5} f={CJK}>已成交委托单成交量统计</Txt>
      <Txt x={1389} y={92} s={17} f={SANS}>共 53622单 6.0手/单</Txt>
      <Txt x={1389} y={217} s={17} f={SANS}>共 23517单 13.7手/单</Txt>
      {['委', '买', '单'].map((ch, k) => (
        <Txt key={'b' + k} x={1366} y={122 + k * 21} s={17} f={CJK}>{ch}</Txt>
      ))}
      {['委', '卖', '单'].map((ch, k) => (
        <Txt key={'s' + k} x={1366} y={247 + k * 21} s={17} f={CJK}>{ch}</Txt>
      ))}
      {orderKinds.map((kind, i) => (
        <React.Fragment key={kind}>
          {i < 3 && <div style={{ position: 'absolute', left: 1388, top: 108 + i * 25, width: 16, height: 16, background: buyColors[i] }} />}
          <Txt x={1415} y={116 + i * 25} s={18} f={CJK}>{kind}</Txt>
          <Txt x={1543} y={116 + i * 25} c={YEL} s={16} f={SANS} b align="right">{buyOrders[i]}</Txt>
          <Txt x={1598} y={116 + i * 25} c={YEL} s={16} f={SANS} b align="right">{Math.round((buyOrders[i] / buySum) * 100)}%</Txt>
          {i < 3 && <div style={{ position: 'absolute', left: 1388, top: 233 + i * 25, width: 16, height: 16, background: sellColors[i] }} />}
          <Txt x={1415} y={241 + i * 25} s={18} f={CJK}>{kind}</Txt>
          <Txt x={1543} y={241 + i * 25} c={YEL} s={16} f={SANS} b align="right">{sellOrders[i]}</Txt>
          <Txt x={1598} y={241 + i * 25} c={YEL} s={16} f={SANS} b align="right">{Math.round((sellOrders[i] / sellSum) * 100)}%</Txt>
        </React.Fragment>
      ))}
      <HL x1={1092} x2={1600} y={327} />

      {/* intraday */}
      <Txt x={1345} y={339} s={15} f={CJK} align="center">分时走势</Txt>
      <div style={{ position: 'absolute', left: 1093, top: 354 }}>
        <ComposedChart width={471} height={90} margin={{ top: 0, right: 0, bottom: 0, left: 0 }}>
          <XAxis type="number" dataKey="t" domain={[0, 240]} hide allowDataOverflow />
          <YAxis type="number" domain={[43.05, 53.81]} hide allowDataOverflow />
          <ReferenceLine y={51.18} stroke={RED} strokeDasharray="1 2" />
          <ReferenceLine y={PREV_CLOSE} stroke={RED} />
          <ReferenceLine y={45.68} stroke={RED} strokeDasharray="1 2" />
          {[60, 120, 180].map((m) => (
            <ReferenceLine key={m} x={m} stroke={RED} strokeDasharray="1 2" />
          ))}
          <Line data={avgRows} dataKey="p" stroke={YEL} strokeWidth={1.3} dot={false} activeDot={false} isAnimationActive={false} type="linear" />
          <Line data={tickRows} dataKey="p" stroke={WHITE} strokeWidth={1.3} dot={false} activeDot={false} isAnimationActive={false} type="linear" />
        </ComposedChart>
      </div>
      <div style={{ position: 'absolute', left: 1093, top: 445 }}>
        <ComposedChart width={471} height={30} data={minuteRows} margin={{ top: 0, right: 0, bottom: 0, left: 0 }}>
          <XAxis type="number" dataKey="t" domain={[0, 240]} hide allowDataOverflow />
          <YAxis type="number" domain={[0, 8391]} hide allowDataOverflow />
          {[60, 120, 180].map((m) => (
            <ReferenceLine key={m} x={m} stroke={RED} strokeDasharray="1 2" />
          ))}
          <Bar dataKey="v" fill={YEL} barSize={2} isAnimationActive={false} />
        </ComposedChart>
      </div>
      <div style={{ position: 'absolute', left: 1092, top: 353, width: 470, height: 121, border: `1px solid ${RED}` }} />
      <HL x1={1092} x2={1564} y={444} />
      <Txt x={1566} y={377} c={RED} s={14}>51.18</Txt>
      <Txt x={1566} y={400} c={GRAY} s={14}>48.43</Txt>
      <Txt x={1566} y={423} c={CYAN} s={14}>45.68</Txt>
      <Txt x={1566} y={453} c={GRAY} s={14}>8391</Txt>
      <Txt x={1566} y={468} c={GRAY} s={14}>分时</Txt>
      <HL x1={1092} x2={1600} y={478} />

      {/* 深圳超赢实时监控 */}
      <Txt x={1345} y={489} s={15} f={CJK} align="center">深圳超赢实时监控</Txt>
      <Box x={1574} y={479} w={27} h={23}>设</Box>
      <Txt x={1194} y={510} c={RED} s={13}>时间: 2021/08/13</Txt>
      <div style={{ position: 'absolute', left: 1092, top: 515 }}>
        <BarChart width={508} height={205} data={monRows} margin={{ top: 0, right: 0, bottom: 0, left: 0 }}>
          <XAxis dataKey="n" height={20} axisLine={false} tickLine={false} tick={MonTick} interval={0} />
          <YAxis
            type="number"
            domain={[-15646, 33413]}
            allowDataOverflow
            ticks={[27236.82, 13978.68, 720.55, -12537.59]}
            interval={0}
            width={102.3}
            tickSize={0}
            tickMargin={4}
            tickFormatter={(v: number) => v.toFixed(2)}
            axisLine={false}
            tick={{ fill: RED, fontSize: 14, fontFamily: MONO }}
          />
          <ReferenceLine y={27236.82} stroke={RED} strokeDasharray="1 2" />
          <ReferenceLine y={13978.68} stroke={RED} strokeDasharray="1 2" />
          <ReferenceLine y={720.55} stroke={RED} strokeDasharray="1 2" />
          <ReferenceLine y={0} stroke={RED} />
          <ReferenceLine y={-12537.59} stroke={YEL} strokeWidth={1.5} />
          <Bar dataKey="v" barSize={29} shape={StripeBar} isAnimationActive={false} />
        </BarChart>
      </div>
      <VL x={1193} y1={538} y2={690} c="#A00000" />
      <Txt x={1093} y={697} s={15}>净额(万元)</Txt>
      <Txt x={1093} y={713} s={15}>分类</Txt>
      <HL x1={1092} x2={1600} y={724} />

      {/* 深市超赢分类统计 */}
      <Txt x={1345} y={736} s={15} f={CJK} align="center">深市超赢分类统计</Txt>
      <Box x={1574} y={724} w={27} h={26}>设</Box>
      <Txt x={1194} y={758} c={RED} s={13}>时间: 2021/08/13</Txt>
      <div style={{ position: 'absolute', left: 1092, top: 750 }}>
        <BarChart width={508} height={150} data={shareRows} margin={{ top: 10, right: 0, bottom: 0, left: 0 }}>
          <XAxis dataKey="n" height={40} axisLine={false} tickLine={false} tick={ShareTick} interval={0} />
          <YAxis
            type="number"
            domain={[-4.41, 83.85]}
            allowDataOverflow
            ticks={[0, 25, 50, 75]}
            interval={0}
            width={102.3}
            tickSize={0}
            tickMargin={4}
            axisLine={{ stroke: RED, strokeDasharray: '1 2' }}
            tick={{ fill: RED, fontSize: 15, fontFamily: MONO }}
          />
          <ReferenceLine y={75} stroke={RED} strokeDasharray="1 2" />
          <ReferenceLine y={50} stroke={RED} strokeDasharray="1 2" />
          <ReferenceLine y={25} stroke={RED} strokeDasharray="1 2" />
          <ReferenceLine y={0} stroke={RED} />
          <Bar dataKey="v" barSize={29} shape={StripeBar} isAnimationActive={false} />
        </BarChart>
      </div>
      <Txt x={1093} y={866} s={15}>比例%</Txt>
      <Txt x={1093} y={884} s={15}>分类</Txt>
    </div>
  );
}
